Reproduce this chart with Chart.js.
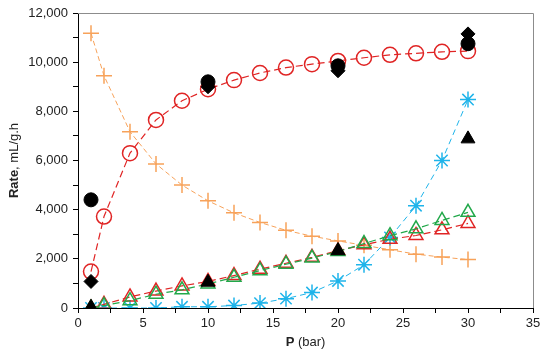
<!DOCTYPE html>
<html>
<head>
<meta charset="utf-8">
<script src="https://cdn.jsdelivr.net/npm/chart.js"></script>
<style>
  html, body { margin: 0; padding: 0; background: #fff; }
  #wrap { width: 550px; height: 356px; position: relative; }
</style>
</head>
<body>
<div id="wrap"><canvas id="rate-chart"></canvas></div>
<script>
// pressure (bar) for the model curves
var pressure = [1, 2, 4, 6, 8, 10, 12, 14, 16, 18, 20, 22, 24, 26, 28, 30];
var redCircles   = [1480, 3720, 6300, 7650, 8430, 8900, 9270, 9560, 9780, 9920, 10050, 10180, 10300, 10360, 10420, 10450];
var orangePlus   = [11180, 9450, 7170, 5860, 5000, 4360, 3870, 3480, 3160, 2920, 2730, 2550, 2370, 2190, 2070, 1970];
var blueStars    = [0, 0, 0, 0, 50, 50, 100, 200, 380, 630, 1100, 1760, 2870, 4160, 6000, 8480];
var redTriangles = [0, 150, 450, 690, 900, 1080, 1320, 1580, 1820, 2060, 2330, 2570, 2800, 2950, 3180, 3440];
var greenTriangles = [0, 100, 300, 560, 740, 980, 1250, 1520, 1780, 2030, 2300, 2620, 2940, 3220, 3560, 3890];

// measured points
var pressureExp = [1, 10, 20, 30];
var expCircles   = [4400, 9200, 9850, 10750];
var expDiamonds  = [1080, 9000, 9650, 11150];
var expTriangles = [30, 1050, 2330, 6880];

var FONT = "'Liberation Sans', Arial, sans-serif";

function pts(xs, ys) {
  return xs.map(function(x, i) { return { x: x, y: ys[i] }; });
}

function curve(ys, color, style, radius, dash, width) {
  return {
    data: pts(pressure, ys),
    showLine: true,
    borderColor: color,
    backgroundColor: 'rgba(0,0,0,0)',
    borderWidth: width,
    borderDash: dash,
    pointStyle: style,
    pointRadius: radius,
    pointBorderColor: color,
    pointBackgroundColor: 'rgba(0,0,0,0)',
    pointBorderWidth: 1.5
  };
}

function measured(ys, style, radius) {
  return {
    data: pts(pressureExp, ys),
    showLine: false,
    pointStyle: style,
    pointRadius: radius,
    pointBorderColor: '#000',
    pointBackgroundColor: '#000',
    pointBorderWidth: 1
  };
}

// frame on top/right plus the axis titles (mixed bold/normal)
var extras = {
  id: 'extras',
  afterDraw: function(chart) {
    var ctx = chart.ctx;
    var a = chart.chartArea;
    ctx.save();
    ctx.strokeStyle = '#8c8c8c';
    ctx.lineWidth = 1;
    ctx.beginPath();
    ctx.moveTo(a.left, a.top + 0.5);
    ctx.lineTo(a.right + 0.5, a.top + 0.5);
    ctx.lineTo(a.right + 0.5, a.bottom);
    ctx.stroke();

    ctx.fillStyle = '#222';
    ctx.textBaseline = 'alphabetic';
    ctx.textAlign = 'left';

    // x title
    ctx.font = 'bold 13px ' + FONT;
    var w1 = ctx.measureText('P').width;
    ctx.font = '13px ' + FONT;
    var w2 = ctx.measureText(' (bar)').width;
    var cx = (a.left + a.right) / 2;
    var x0 = cx - (w1 + w2) / 2;
    ctx.font = 'bold 13px ' + FONT;
    ctx.fillText('P', x0, 346);
    ctx.font = '13px ' + FONT;
    ctx.fillText(' (bar)', x0 + w1, 346);

    // y title
    ctx.translate(18, (a.top + a.bottom) / 2);
    ctx.rotate(-Math.PI / 2);
    ctx.font = 'bold 13px ' + FONT;
    var t1 = ctx.measureText('Rate').width;
    ctx.font = '13px ' + FONT;
    var t2 = ctx.measureText(', mL/g.h').width;
    var s = -(t1 + t2) / 2;
    ctx.font = 'bold 13px ' + FONT;
    ctx.fillText('Rate', s, 0);
    ctx.font = '13px ' + FONT;
    ctx.fillText(', mL/g.h', s + t1, 0);
    ctx.restore();
  }
};

var ctx = document.getElementById('rate-chart').getContext('2d');
var rateChart = new Chart(ctx, {
  type: 'scatter',
  data: {
    datasets: [
      // first dataset ends up on top
      measured(expCircles, 'circle', 7),
      measured(expDiamonds, 'rectRot', 7),
      measured(expTriangles, 'triangle', 8),
      curve(greenTriangles, '#22a84a', 'triangle', 8, [7, 4], 1.2),
      curve(redTriangles, '#e02424', 'triangle', 8, [7, 4], 1.2),
      curve(blueStars, '#1fb4ea', 'star', 8, [6, 4], 1),
      curve(orangePlus, '#f7a25a', 'cross', 8, [5, 3], 1),
      curve(redCircles, '#e02424', 'circle', 7.5, [7, 4], 1.2)
    ]
  },
  options: {
    responsive: true,
    maintainAspectRatio: false,
    animation: false,
    layout: { padding: { left: 0, right: 17, top: 13, bottom: 0 } },
    plugins: {
      legend: { display: false },
      tooltip: { enabled: false }
    },
    scales: {
      x: {
        type: 'linear',
        min: 0,
        max: 35,
        afterFit: function(scale) { scale.height = 48; },
        ticks: {
          stepSize: 2.5,
          autoSkip: false,
          maxRotation: 0,
          padding: 3,
          color: '#222',
          font: { family: FONT, size: 13 },
          callback: function(v) { return v % 5 === 0 ? String(v) : ''; }
        },
        grid: { drawOnChartArea: false, tickLength: 5, color: '#000' },
        border: { color: '#000', width: 1 }
      },
      y: {
        type: 'linear',
        min: 0,
        max: 12000,
        afterFit: function(scale) { scale.width = 78; },
        ticks: {
          stepSize: 1000,
          autoSkip: false,
          padding: 5,
          color: '#222',
          font: { family: FONT, size: 13 },
          callback: function(v) { return v % 2000 === 0 ? v.toLocaleString('en-US') : ''; }
        },
        grid: { drawOnChartArea: false, tickLength: 5, color: '#000' },
        border: { color: '#000', width: 1 }
      }
    }
  },
  plugins: [extras]
});
</script>
</body>
</html>
